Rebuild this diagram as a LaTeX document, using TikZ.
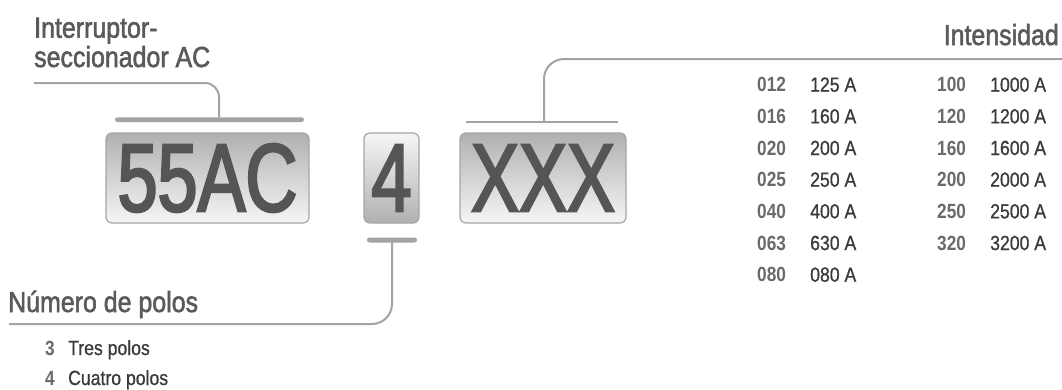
\documentclass[tikz,border=0pt]{standalone}
\usepackage{fontspec}
\setmainfont{Liberation Sans}
\newfontfamily\hdfont[FakeStretch=0.86,FakeBold=1.8]{Liberation Sans}
\newfontfamily\bigfont[FakeStretch=0.745,FakeBold=2.5]{Liberation Sans}
\newfontfamily\smfont[FakeStretch=0.86,FakeBold=0.8]{Liberation Sans}
\newfontfamily\smbfont[FakeStretch=0.84]{Liberation Sans Bold}
\definecolor{headc}{HTML}{5A5A5A}
\definecolor{bigc}{HTML}{555555}
\definecolor{codec}{HTML}{6A6A6A}
\definecolor{valc}{HTML}{3A3A3A}
\definecolor{linec}{HTML}{A3A3A3}
\definecolor{boxline}{HTML}{A6A6A6}
\definecolor{darkg}{HTML}{B0B0B0}
\definecolor{lightg}{HTML}{F6F6F6}
\tikzset{
  heading/.style={inner sep=0pt, text=headc, font=\hdfont\fontsize{29}{30}\selectfont},
  bigbox/.style={draw=boxline, line width=1.2pt, rounded corners=6pt, inner sep=0pt,
     minimum height=90pt, text=bigc, font=\bigfont\fontsize{96.5}{97}\selectfont},
  darktop/.style={top color=darkg, bottom color=lightg},
  lighttop/.style={top color=lightg, bottom color=darkg},
  barnode/.style={fill=linec, inner sep=0pt, draw=none},
  conn/.style={draw=linec, line width=2pt},
  code/.style={inner sep=0pt, anchor=base west, text=codec, font=\smbfont\fontsize{20.5}{21}\selectfont},
  val/.style={inner sep=0pt, anchor=base west, text=valc, font=\smfont\fontsize{20.5}{21}\selectfont},
}
\begin{document}
\begin{tikzpicture}[x=1pt,y=-1pt]
\useasboundingbox (0,0) rectangle (1062,389);
\fill[white] (0,0) rectangle (1062,389);

% headings
\node[heading, anchor=base west] (h1a) at (34,37.7) {Interruptor-};
\node[heading, anchor=base west] (h1b) at (34,67) {seccionador AC};
\node[heading, anchor=base east] (h3) at (1059,45) {Intensidad};
\node[heading, anchor=base west] (h2) at (8,312) {Número de polos};

% code boxes
\node[bigbox, darktop, minimum width=203pt] (b1) at (207.5,178) {55AC};
\node[bigbox, lighttop, minimum width=55pt] (b2) at (391.5,178) {4};
\node[bigbox, darktop, minimum width=166pt] (b3) at (543,178) {XXX};

% bars
\node[barnode, minimum width=189pt, minimum height=4.7pt, rounded corners=2.35pt] (bar1) at (209.5,119.7) {};
\node[barnode, minimum width=50pt, minimum height=5pt, rounded corners=2.5pt] (bar2) at (392,240) {};
\node[barnode, minimum width=152pt, minimum height=2.2pt] (bar3) at (542,122.3) {};

% connector ends
\coordinate (c1) at (34,83);
\coordinate (c2) at (9,324);
\coordinate (c3) at (1062,59);

\draw[conn, rounded corners=14pt] (c1) -| ([xshift=9.5pt]bar1.north);
\draw[conn, rounded corners=20pt] (bar2.south) |- (c2);
\draw[conn, rounded corners=20pt] ([xshift=2pt]bar3.north) |- (c3);

% intensidad table
\foreach \c/\v [count=\i] in {012/125 A,016/160 A,020/200 A,025/250 A,040/400 A,063/630 A,080/080 A}{
  \node[code] (tc\i) at (757,91.7+31.67*\i-31.67) {\c};
  \node[val] (tv\i) at (810,91.7+31.67*\i-31.67) {\v};
}
\foreach \c/\v [count=\i] in {100/1000 A,120/1200 A,160/1600 A,200/2000 A,250/2500 A,320/3200 A}{
  \node[code] (uc\i) at (937,91.7+31.67*\i-31.67) {\c};
  \node[val] (uv\i) at (990,91.7+31.67*\i-31.67) {\v};
}

% polos list
\node[code] (p3) at (45,355) {3};
\node[val] (p3t) at (68,355) {Tres polos};
\node[code] (p4) at (45,385) {4};
\node[val] (p4t) at (68,385) {Cuatro polos};
\end{tikzpicture}
\end{document}
